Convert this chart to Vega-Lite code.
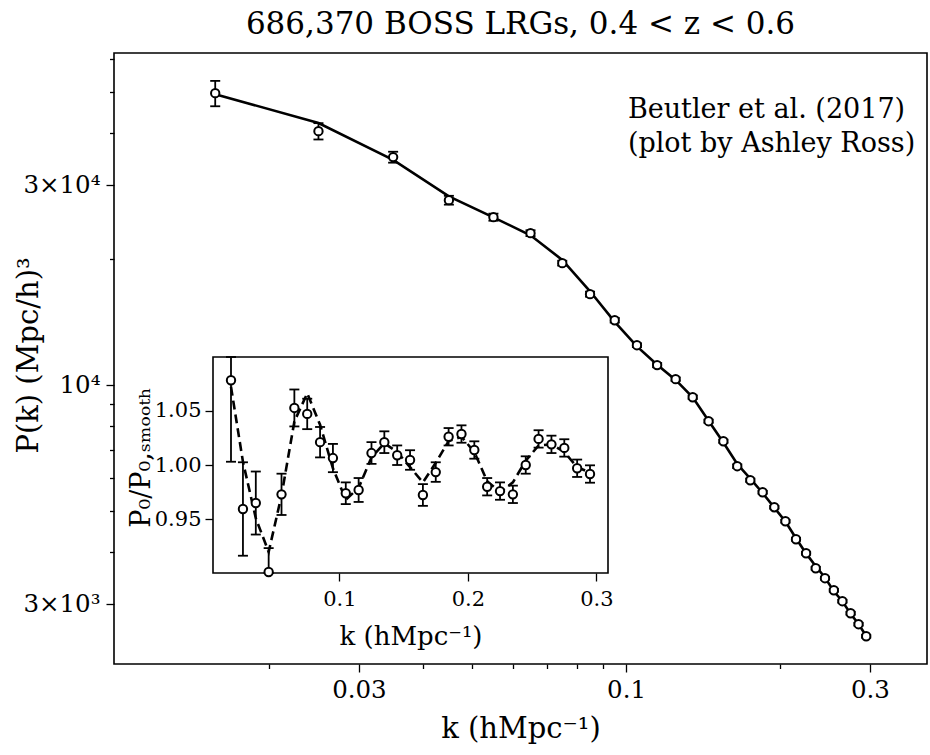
{
  "$schema": "https://vega.github.io/schema/vega-lite/v6.json",
  "width": 813,
  "height": 611,
  "autosize": {"type": "none"},
  "padding": {"left": 114, "top": 53, "right": 3, "bottom": 91},
  "background": "white",
  "config": {
    "view": {"stroke": "black", "strokeWidth": 1.6},
    "font": "DejaVu Serif",
    "axis": {"labelFont": "DejaVu Serif", "titleFont": "DejaVu Serif", "labelColor": "black", "titleColor": "black", "tickColor": "black", "domainColor": "black", "grid": false, "titleFontWeight": "normal", "labelFlush": false, "labelOverlap": false, "labelBound": false}
  },
  "title": {"text": "686,370 BOSS LRGs, 0.4 < z < 0.6", "font": "DejaVu Serif", "fontSize": 31, "fontWeight": "normal", "color": "black", "anchor": "middle", "frame": "group", "offset": 5},
  "data": {"values": [
    {"k": 0.0157, "P": 49730, "Plo": 46270, "Phi": 53190, "Pm": 49450, "r": 1.078, "rlo": 1.003, "rhi": 1.153, "rm": 1.072},
    {"k": 0.025, "P": 40360, "Plo": 38550, "Phi": 42170, "Pm": 42190, "r": 0.9595, "rlo": 0.9165, "rhi": 1.0025, "rm": 1.003},
    {"k": 0.035, "P": 34990, "Plo": 33940, "Phi": 36040, "Pm": 34480, "r": 0.965, "rlo": 0.936, "rhi": 0.994, "rm": 0.951},
    {"k": 0.045, "P": 27620, "Plo": 26950, "Phi": 28290, "Pm": 28190, "r": 0.9015, "rlo": 0.8795, "rhi": 0.9235, "rm": 0.92},
    {"k": 0.055, "P": 25160, "Plo": 24670, "Phi": 25650, "Pm": 25130, "r": 0.973, "rlo": 0.954, "rhi": 0.992, "rm": 0.972},
    {"k": 0.065, "P": 23040, "Plo": 22670, "Phi": 23410, "Pm": 22770, "r": 1.0525, "rlo": 1.0355, "rhi": 1.0695, "rm": 1.04},
    {"k": 0.075, "P": 19540, "Plo": 19280, "Phi": 19800, "Pm": 19890, "r": 1.047, "rlo": 1.033, "rhi": 1.061, "rm": 1.066},
    {"k": 0.085, "P": 16480, "Plo": 16250, "Phi": 16710, "Pm": 16740, "r": 1.021, "rlo": 1.007, "rhi": 1.035, "rm": 1.037},
    {"k": 0.095, "P": 14280, "Plo": 14100, "Phi": 14460, "Pm": 14150, "r": 1.0064, "rlo": 0.9934, "rhi": 1.0194, "rm": 0.997},
    {"k": 0.105, "P": 12450, "Plo": 12320, "Phi": 12580, "Pm": 12370, "r": 0.974, "rlo": 0.964, "rhi": 0.984, "rm": 0.968},
    {"k": 0.115, "P": 11160, "Plo": 11030, "Phi": 11290, "Pm": 11180, "r": 0.977, "rlo": 0.966, "rhi": 0.988, "rm": 0.979},
    {"k": 0.125, "P": 10330, "Plo": 10230, "Phi": 10430, "Pm": 10290, "r": 1.011, "rlo": 1.001, "rhi": 1.021, "rm": 1.007},
    {"k": 0.135, "P": 9355, "Plo": 9263, "Phi": 9447, "Pm": 9346, "r": 1.021, "rlo": 1.011, "rhi": 1.031, "rm": 1.02},
    {"k": 0.145, "P": 8200, "Plo": 8127, "Phi": 8273, "Pm": 8224, "r": 1.009, "rlo": 1.0, "rhi": 1.018, "rm": 1.012},
    {"k": 0.155, "P": 7345, "Plo": 7279, "Phi": 7411, "Pm": 7297, "r": 1.0046, "rlo": 0.9956, "rhi": 1.0136, "rm": 0.998},
    {"k": 0.165, "P": 6404, "Plo": 6338, "Phi": 6470, "Pm": 6480, "r": 0.9724, "rlo": 0.9624, "rhi": 0.9824, "rm": 0.984},
    {"k": 0.175, "P": 5929, "Plo": 5875, "Phi": 5983, "Pm": 5980, "r": 0.9935, "rlo": 0.9845, "rhi": 1.0025, "rm": 1.002},
    {"k": 0.185, "P": 5550, "Plo": 5506, "Phi": 5594, "Pm": 5528, "r": 1.026, "rlo": 1.018, "rhi": 1.034, "rm": 1.022},
    {"k": 0.195, "P": 5111, "Plo": 5071, "Phi": 5151, "Pm": 5099, "r": 1.0285, "rlo": 1.0205, "rhi": 1.0365, "rm": 1.026},
    {"k": 0.205, "P": 4733, "Plo": 4696, "Phi": 4770, "Pm": 4725, "r": 1.0138, "rlo": 1.0058, "rhi": 1.0218, "rm": 1.012},
    {"k": 0.215, "P": 4287, "Plo": 4253, "Phi": 4321, "Pm": 4309, "r": 0.98, "rlo": 0.972, "rhi": 0.988, "rm": 0.985},
    {"k": 0.225, "P": 3970, "Plo": 3939, "Phi": 4001, "Pm": 3966, "r": 0.976, "rlo": 0.968, "rhi": 0.984, "rm": 0.975},
    {"k": 0.235, "P": 3655, "Plo": 3626, "Phi": 3684, "Pm": 3696, "r": 0.973, "rlo": 0.965, "rhi": 0.981, "rm": 0.984},
    {"k": 0.245, "P": 3461, "Plo": 3434, "Phi": 3488, "Pm": 3475, "r": 1.0, "rlo": 0.992, "rhi": 1.008, "rm": 1.004},
    {"k": 0.255, "P": 3239, "Plo": 3213, "Phi": 3265, "Pm": 3220, "r": 1.024, "rlo": 1.016, "rhi": 1.032, "rm": 1.018},
    {"k": 0.265, "P": 3050, "Plo": 3026, "Phi": 3074, "Pm": 3050, "r": 1.019, "rlo": 1.011, "rhi": 1.027, "rm": 1.019},
    {"k": 0.275, "P": 2855, "Plo": 2832, "Phi": 2878, "Pm": 2845, "r": 1.0157, "rlo": 1.0077, "rhi": 1.0237, "rm": 1.012},
    {"k": 0.285, "P": 2688, "Plo": 2667, "Phi": 2709, "Pm": 2691, "r": 0.997, "rlo": 0.989, "rhi": 1.005, "rm": 0.998},
    {"k": 0.295, "P": 2516, "Plo": 2496, "Phi": 2536, "Pm": 2519, "r": 0.9917, "rlo": 0.9837, "rhi": 0.9997, "rm": 0.993}
  ]},
  "layer": [
    {
      "layer": [
        {
          "mark": {"type": "line", "color": "black", "strokeWidth": 2.6},
          "encoding": {
            "x": {"field": "k", "type": "quantitative", "scale": {"type": "log", "domain": [0.00995, 0.388], "nice": false},
              "axis": {"orient": "bottom", "values": [0.02, 0.03, 0.04, 0.05, 0.06, 0.07, 0.08, 0.09, 0.1, 0.2, 0.3],
                "labelExpr": "datum.value == 0.03 ? '0.03' : datum.value == 0.1 ? '0.1' : datum.value == 0.3 ? '0.3' : ''",
                "tickSize": {"condition": {"test": "datum.value == 0.03 || datum.value == 0.1 || datum.value == 0.3", "value": 8}, "value": 4.5},
                "tickWidth": 1.3, "domain": false, "labelFontSize": 24.5, "labelPadding": 6,
                "title": "k (hMpc⁻¹)", "titleFontSize": 29, "titleY": 73, "titleBaseline": "alphabetic"}},
            "y": {"field": "Pm", "type": "quantitative", "scale": {"type": "log", "domain": [2160, 62000], "nice": false},
              "axis": {"orient": "left", "values": [3000, 4000, 5000, 6000, 7000, 8000, 9000, 10000, 20000, 30000, 40000, 50000, 60000],
                "labelExpr": "datum.value == 30000 ? '3×10⁴' : datum.value == 10000 ? '10⁴' : datum.value == 3000 ? '3×10³' : ''",
                "tickSize": {"condition": {"test": "datum.value == 30000 || datum.value == 10000 || datum.value == 3000", "value": 8}, "value": 4.5},
                "tickWidth": 1.3, "domain": false, "labelFontSize": 24.5, "labelPadding": 6,
                "title": "P(k) (Mpc/h)³", "titleFontSize": 29, "titleX": -86, "titleY": 302, "titleAngle": -90, "titleBaseline": "middle", "titleAlign": "center"}}
          }
        },
        {
          "mark": {"type": "rule", "color": "black", "strokeWidth": 1.8},
          "encoding": {
            "x": {"field": "k", "type": "quantitative", "scale": {"type": "log", "domain": [0.00995, 0.388], "nice": false}},
            "y": {"field": "Plo", "type": "quantitative", "scale": {"type": "log", "domain": [2160, 62000], "nice": false}},
            "y2": {"field": "Phi"}
          }
        },
        {
          "mark": {"type": "tick", "orient": "horizontal", "color": "black", "size": 10, "thickness": 1.8, "opacity": 1},
          "encoding": {
            "x": {"field": "k", "type": "quantitative", "scale": {"type": "log", "domain": [0.00995, 0.388], "nice": false}},
            "y": {"field": "Plo", "type": "quantitative", "scale": {"type": "log", "domain": [2160, 62000], "nice": false}}
          }
        },
        {
          "mark": {"type": "tick", "orient": "horizontal", "color": "black", "size": 10, "thickness": 1.8, "opacity": 1},
          "encoding": {
            "x": {"field": "k", "type": "quantitative", "scale": {"type": "log", "domain": [0.00995, 0.388], "nice": false}},
            "y": {"field": "Phi", "type": "quantitative", "scale": {"type": "log", "domain": [2160, 62000], "nice": false}}
          }
        },
        {
          "mark": {"type": "point", "shape": "circle", "filled": true, "fill": "white", "stroke": "black", "strokeWidth": 2, "size": 70, "opacity": 1},
          "encoding": {
            "x": {"field": "k", "type": "quantitative", "scale": {"type": "log", "domain": [0.00995, 0.388], "nice": false}},
            "y": {"field": "P", "type": "quantitative", "scale": {"type": "log", "domain": [2160, 62000], "nice": false}}
          }
        },
        {
          "data": {"values": [{"note": "Beutler et al. (2017)"}]},
          "mark": {"type": "text", "align": "left", "baseline": "alphabetic", "fontSize": 27, "lineHeight": 34, "font": "DejaVu Serif", "color": "black"},
          "encoding": {
            "x": {"datum": 0.1008, "type": "quantitative", "scale": {"type": "log", "domain": [0.00995, 0.388], "nice": false}},
            "y": {"datum": 43350, "type": "quantitative", "scale": {"type": "log", "domain": [2160, 62000], "nice": false}},
            "text": {"value": ["Beutler et al. (2017)", "(plot by Ashley Ross)"]}
          }
        }
      ]
    },
    {
      "layer": [
        {
          "data": {"values": [{"frame": "inset"}]},
          "mark": {"type": "rect", "fill": "white", "stroke": "black", "strokeWidth": 1.6},
          "encoding": {
            "x": {"datum": 0.0017, "type": "quantitative", "scale": {"domain": [0.0017, 0.309], "range": [99, 494], "nice": false, "zero": false, "clamp": true},
              "axis": {"orient": "bottom", "offset": -91, "values": [0.1, 0.2, 0.3], "format": ".1f", "tickSize": 8, "tickWidth": 1.3, "domain": false,
                "labelFontSize": 21, "labelPadding": 7, "title": "k (hMpc⁻¹)", "titleFontSize": 26, "titleY": 71, "titleBaseline": "alphabetic"}},
            "x2": {"datum": 0.309},
            "y": {"datum": 0.9006, "type": "quantitative", "scale": {"domain": [0.9006, 1.0994], "range": [520, 304], "nice": false, "zero": false, "clamp": true},
              "axis": {"orient": "left", "offset": -99, "values": [0.95, 1.0, 1.05], "format": ".2f", "tickSize": 8, "tickWidth": 1.3, "domain": false,
                "labelFontSize": 21, "labelPadding": 4, "title": "P₀/P₀,ₛₘₒₒₜₕ", "titleFontSize": 27, "titleX": -72, "titleY": 404, "titleAngle": -90, "titleBaseline": "middle", "titleAlign": "center"}},
            "y2": {"datum": 1.0994}
          }
        },
        {
          "mark": {"type": "line", "color": "black", "strokeWidth": 2.6, "strokeDash": [9, 5]},
          "encoding": {
            "x": {"field": "k", "type": "quantitative", "scale": {"domain": [0.0017, 0.309], "range": [99, 494], "nice": false, "zero": false, "clamp": true}},
            "y": {"field": "rm", "type": "quantitative", "scale": {"domain": [0.9006, 1.0994], "range": [520, 304], "nice": false, "zero": false, "clamp": true}}
          }
        },
        {
          "mark": {"type": "rule", "color": "black", "strokeWidth": 1.8},
          "encoding": {
            "x": {"field": "k", "type": "quantitative", "scale": {"domain": [0.0017, 0.309], "range": [99, 494], "nice": false, "zero": false, "clamp": true}},
            "y": {"field": "rlo", "type": "quantitative", "scale": {"domain": [0.9006, 1.0994], "range": [520, 304], "nice": false, "zero": false, "clamp": true}},
            "y2": {"field": "rhi"}
          }
        },
        {
          "mark": {"type": "tick", "orient": "horizontal", "color": "black", "size": 10, "thickness": 1.8, "opacity": 1},
          "encoding": {
            "x": {"field": "k", "type": "quantitative", "scale": {"domain": [0.0017, 0.309], "range": [99, 494], "nice": false, "zero": false, "clamp": true}},
            "y": {"field": "rlo", "type": "quantitative", "scale": {"domain": [0.9006, 1.0994], "range": [520, 304], "nice": false, "zero": false, "clamp": true}}
          }
        },
        {
          "mark": {"type": "tick", "orient": "horizontal", "color": "black", "size": 10, "thickness": 1.8, "opacity": 1},
          "encoding": {
            "x": {"field": "k", "type": "quantitative", "scale": {"domain": [0.0017, 0.309], "range": [99, 494], "nice": false, "zero": false, "clamp": true}},
            "y": {"field": "rhi", "type": "quantitative", "scale": {"domain": [0.9006, 1.0994], "range": [520, 304], "nice": false, "zero": false, "clamp": true}}
          }
        },
        {
          "mark": {"type": "point", "shape": "circle", "filled": true, "fill": "white", "stroke": "black", "strokeWidth": 2, "size": 70, "opacity": 1},
          "encoding": {
            "x": {"field": "k", "type": "quantitative", "scale": {"domain": [0.0017, 0.309], "range": [99, 494], "nice": false, "zero": false, "clamp": true}},
            "y": {"field": "r", "type": "quantitative", "scale": {"domain": [0.9006, 1.0994], "range": [520, 304], "nice": false, "zero": false, "clamp": true}}
          }
        }
      ]
    }
  ],
  "resolve": {"scale": {"x": "independent", "y": "independent"}, "axis": {"x": "independent", "y": "independent"}}
}
